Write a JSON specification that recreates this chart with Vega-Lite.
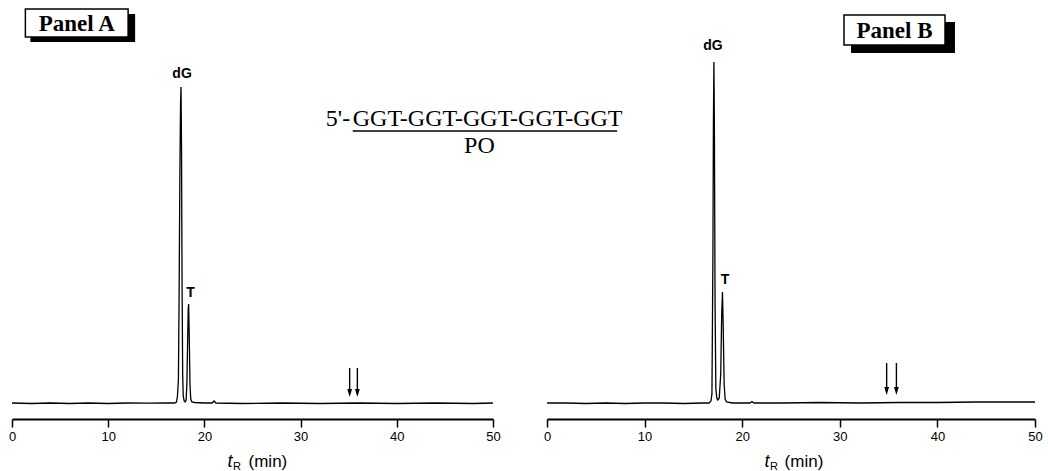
{
  "$schema": "https://vega.github.io/schema/vega-lite/v6.json",
  "padding": {"left": 8, "top": 0, "right": 0, "bottom": 0},
  "bounds": "flush",
  "spacing": 54,
  "background": "white",
  "config": {
    "view": {"stroke": null},
    "axisX": {"title": null, "tickSize": 8, "tickWidth": 1.5, "tickColor": "black", "domainColor": "black", "domainWidth": 1.8, "labelFont": "Liberation Sans", "labelFontSize": 13, "labelColor": "black", "labelPadding": 3, "grid": false, "labelFlush": false}
  },
  "datasets": {
    "lineA": [
      {"t": 0, "v": 1}, {"t": 2, "v": 0.5}, {"t": 4, "v": 1}, {"t": 6, "v": 0.5}, {"t": 8, "v": 1}, {"t": 10, "v": 0.5}, {"t": 12, "v": 1}, {"t": 14, "v": 0.8}, {"t": 16, "v": 1}, {"t": 16.9, "v": 1},
      {"t": 17.1, "v": 2}, {"t": 17.2, "v": 8}, {"t": 17.3, "v": 25}, {"t": 17.38, "v": 120}, {"t": 17.45, "v": 230}, {"t": 17.52, "v": 300}, {"t": 17.57, "v": 317}, {"t": 17.62, "v": 260}, {"t": 17.68, "v": 120}, {"t": 17.74, "v": 30}, {"t": 17.8, "v": 8}, {"t": 17.9, "v": 3}, {"t": 18.0, "v": 2},
      {"t": 18.1, "v": 4}, {"t": 18.18, "v": 20}, {"t": 18.25, "v": 60}, {"t": 18.32, "v": 95}, {"t": 18.36, "v": 100}, {"t": 18.42, "v": 70}, {"t": 18.5, "v": 20}, {"t": 18.58, "v": 5}, {"t": 18.7, "v": 2}, {"t": 19, "v": 1.5},
      {"t": 20, "v": 1}, {"t": 20.8, "v": 1}, {"t": 21.0, "v": 3}, {"t": 21.2, "v": 1}, {"t": 24, "v": 0.5}, {"t": 28, "v": 1}, {"t": 32, "v": 0.5}, {"t": 36, "v": 1}, {"t": 40, "v": 0.5}, {"t": 44, "v": 1}, {"t": 48, "v": 0.5}, {"t": 50, "v": 1}
    ],
    "lineB": [
      {"t": 0, "v": 1}, {"t": 2, "v": 1}, {"t": 4, "v": 0.5}, {"t": 6, "v": 1}, {"t": 8, "v": 0.5}, {"t": 10, "v": 1}, {"t": 12, "v": 1}, {"t": 14, "v": 0.5}, {"t": 16, "v": 1}, {"t": 16.6, "v": 1},
      {"t": 16.8, "v": 3}, {"t": 16.9, "v": 10}, {"t": 17.0, "v": 150}, {"t": 17.05, "v": 280}, {"t": 17.1, "v": 342}, {"t": 17.15, "v": 280}, {"t": 17.22, "v": 100}, {"t": 17.3, "v": 15}, {"t": 17.4, "v": 6}, {"t": 17.5, "v": 4},
      {"t": 17.65, "v": 6}, {"t": 17.8, "v": 30}, {"t": 17.9, "v": 90}, {"t": 17.98, "v": 112}, {"t": 18.05, "v": 80}, {"t": 18.15, "v": 20}, {"t": 18.25, "v": 5}, {"t": 18.4, "v": 2}, {"t": 19, "v": 1},
      {"t": 20.8, "v": 1}, {"t": 21.0, "v": 2.5}, {"t": 21.2, "v": 1}, {"t": 24, "v": 1}, {"t": 28, "v": 1.5}, {"t": 32, "v": 1}, {"t": 36, "v": 1.5}, {"t": 40, "v": 1.5}, {"t": 44, "v": 2}, {"t": 48, "v": 2}, {"t": 50, "v": 2}
    ],
    "arrowA": [{"t": 35.1, "v": 36, "v2": 11}, {"t": 35.9, "v": 36, "v2": 11}],
    "arrowB": [{"t": 34.8, "v": 41, "v2": 13}, {"t": 35.8, "v": 41, "v2": 13}],
    "boxA": [{"part": "shadow", "t": 1.91, "t2": 12.8, "v": 390, "v2": 362}, {"part": "face", "t": 1.39, "t2": 12.07, "v": 395, "v2": 367}],
    "boxB": [{"part": "shadow", "t": 31.15, "t2": 41.8, "v": 382, "v2": 351}, {"part": "face", "t": 30.43, "t2": 40.78, "v": 389, "v2": 359}],
    "panelA": [{"t": 6.73, "v": 380, "label": "Panel A"}],
    "panelB": [{"t": 35.6, "v": 373, "label": "Panel B"}],
    "peaksA": [{"t": 17.68, "v": 330, "label": "dG"}, {"t": 18.56, "v": 111, "label": "T"}],
    "peaksB": [{"t": 17.0, "v": 358, "label": "dG"}, {"t": 18.24, "v": 124, "label": "T"}],
    "seqPre": [{"t": 35.15, "v": 278, "label": "5'-"}],
    "seqA": [{"t": 35.42, "v": 278, "label": "GGT-GGT-GGT-GGT-GGT"}],
    "poA": [{"t": 48.59, "v": 251, "label": "PO"}],
    "underA": [{"t": 35.42, "t2": 62.9, "v": 273}],
    "titleA": [{"kind": "t", "t": 22.66, "v": -58, "label": "t"}, {"kind": "R", "t": 23.38, "v": -63, "label": "R"}, {"kind": "min", "t": 26.6, "v": -58, "label": "(min)"}],
    "titleB": [{"kind": "t", "t": 22.54, "v": -58, "label": "t"}, {"kind": "R", "t": 23.26, "v": -63, "label": "R"}, {"kind": "min", "t": 26.33, "v": -58, "label": "(min)"}]
  },
  "hconcat": [
    {
      "width": 481,
      "height": 419,
      "encoding": {
        "x": {"field": "t", "type": "quantitative", "scale": {"domain": [0, 50], "nice": false, "zero": false}, "axis": {"values": [0, 10, 20, 30, 40, 50]}},
        "y": {"field": "v", "type": "quantitative", "scale": {"domain": [-15, 404], "nice": false, "zero": false}, "axis": null}
      },
      "layer": [
        {"data": {"name": "lineA"}, "mark": {"type": "line", "color": "black", "strokeWidth": 1.3}},
        {"data": {"name": "arrowA"}, "mark": {"type": "rule", "color": "black", "strokeWidth": 1.4}, "encoding": {"y2": {"field": "v2"}}},
        {"data": {"name": "arrowA"}, "mark": {"type": "point", "shape": "M-0.6,-1L0.6,-1L0,1Z", "filled": true, "color": "black", "opacity": 1, "size": 64},
         "encoding": {"y": {"field": "v2", "type": "quantitative", "axis": null}}},
        {"data": {"name": "boxA"}, "transform": [{"filter": "datum.part === 'shadow'"}], "mark": {"type": "rect", "color": "black"},
         "encoding": {"x2": {"field": "t2"}, "y2": {"field": "v2"}}},
        {"data": {"name": "boxA"}, "transform": [{"filter": "datum.part === 'face'"}], "mark": {"type": "rect", "fill": "white", "stroke": "black", "strokeWidth": 1.5},
         "encoding": {"x2": {"field": "t2"}, "y2": {"field": "v2"}}},
        {"data": {"name": "panelA"}, "mark": {"type": "text", "font": "Liberation Serif", "fontWeight": "bold", "fontSize": 23, "color": "black", "baseline": "middle", "align": "center"},
         "encoding": {"text": {"field": "label"}}},
        {"data": {"name": "peaksA"}, "mark": {"type": "text", "font": "Liberation Sans", "fontWeight": "bold", "fontSize": 14, "color": "black", "baseline": "middle", "align": "center"},
         "encoding": {"text": {"field": "label"}}},
        {"data": {"name": "seqPre"}, "mark": {"type": "text", "font": "Liberation Serif", "fontSize": 24, "color": "black", "baseline": "alphabetic", "align": "right"},
         "encoding": {"text": {"field": "label"}}},
        {"data": {"name": "seqA"}, "mark": {"type": "text", "font": "Liberation Serif", "fontSize": 24, "color": "black", "baseline": "alphabetic", "align": "left"},
         "encoding": {"text": {"field": "label"}}},
        {"data": {"name": "poA"}, "mark": {"type": "text", "font": "Liberation Serif", "fontSize": 24, "color": "black", "baseline": "alphabetic", "align": "center"},
         "encoding": {"text": {"field": "label"}}},
        {"data": {"name": "underA"}, "mark": {"type": "rule", "color": "black", "strokeWidth": 1.4},
         "encoding": {"x2": {"field": "t2"}}},
        {"data": {"name": "titleA"}, "transform": [{"filter": "datum.kind === 't'"}], "mark": {"type": "text", "font": "Liberation Sans", "fontStyle": "italic", "fontSize": 18, "color": "black", "baseline": "middle", "align": "center"},
         "encoding": {"text": {"field": "label"}}},
        {"data": {"name": "titleA"}, "transform": [{"filter": "datum.kind === 'R'"}], "mark": {"type": "text", "font": "Liberation Sans", "fontSize": 11, "color": "black", "baseline": "middle", "align": "center"},
         "encoding": {"text": {"field": "label"}}},
        {"data": {"name": "titleA"}, "transform": [{"filter": "datum.kind === 'min'"}], "mark": {"type": "text", "font": "Liberation Sans", "fontSize": 17, "color": "black", "baseline": "middle", "align": "center"},
         "encoding": {"text": {"field": "label"}}}
      ]
    },
    {
      "width": 488,
      "height": 419,
      "encoding": {
        "x": {"field": "t", "type": "quantitative", "scale": {"domain": [0, 50], "nice": false, "zero": false}, "axis": {"values": [0, 10, 20, 30, 40, 50]}},
        "y": {"field": "v", "type": "quantitative", "scale": {"domain": [-15, 404], "nice": false, "zero": false}, "axis": null}
      },
      "layer": [
        {"data": {"name": "lineB"}, "mark": {"type": "line", "color": "black", "strokeWidth": 1.3}},
        {"data": {"name": "arrowB"}, "mark": {"type": "rule", "color": "black", "strokeWidth": 1.4}, "encoding": {"y2": {"field": "v2"}}},
        {"data": {"name": "arrowB"}, "mark": {"type": "point", "shape": "M-0.6,-1L0.6,-1L0,1Z", "filled": true, "color": "black", "opacity": 1, "size": 64},
         "encoding": {"y": {"field": "v2", "type": "quantitative", "axis": null}}},
        {"data": {"name": "boxB"}, "transform": [{"filter": "datum.part === 'shadow'"}], "mark": {"type": "rect", "color": "black"},
         "encoding": {"x2": {"field": "t2"}, "y2": {"field": "v2"}}},
        {"data": {"name": "boxB"}, "transform": [{"filter": "datum.part === 'face'"}], "mark": {"type": "rect", "fill": "white", "stroke": "black", "strokeWidth": 1.5},
         "encoding": {"x2": {"field": "t2"}, "y2": {"field": "v2"}}},
        {"data": {"name": "panelB"}, "mark": {"type": "text", "font": "Liberation Serif", "fontWeight": "bold", "fontSize": 23, "color": "black", "baseline": "middle", "align": "center"},
         "encoding": {"text": {"field": "label"}}},
        {"data": {"name": "peaksB"}, "mark": {"type": "text", "font": "Liberation Sans", "fontWeight": "bold", "fontSize": 14, "color": "black", "baseline": "middle", "align": "center"},
         "encoding": {"text": {"field": "label"}}},
        {"data": {"name": "titleB"}, "transform": [{"filter": "datum.kind === 't'"}], "mark": {"type": "text", "font": "Liberation Sans", "fontStyle": "italic", "fontSize": 18, "color": "black", "baseline": "middle", "align": "center"},
         "encoding": {"text": {"field": "label"}}},
        {"data": {"name": "titleB"}, "transform": [{"filter": "datum.kind === 'R'"}], "mark": {"type": "text", "font": "Liberation Sans", "fontSize": 11, "color": "black", "baseline": "middle", "align": "center"},
         "encoding": {"text": {"field": "label"}}},
        {"data": {"name": "titleB"}, "transform": [{"filter": "datum.kind === 'min'"}], "mark": {"type": "text", "font": "Liberation Sans", "fontSize": 17, "color": "black", "baseline": "middle", "align": "center"},
         "encoding": {"text": {"field": "label"}}}
      ]
    }
  ]
}
